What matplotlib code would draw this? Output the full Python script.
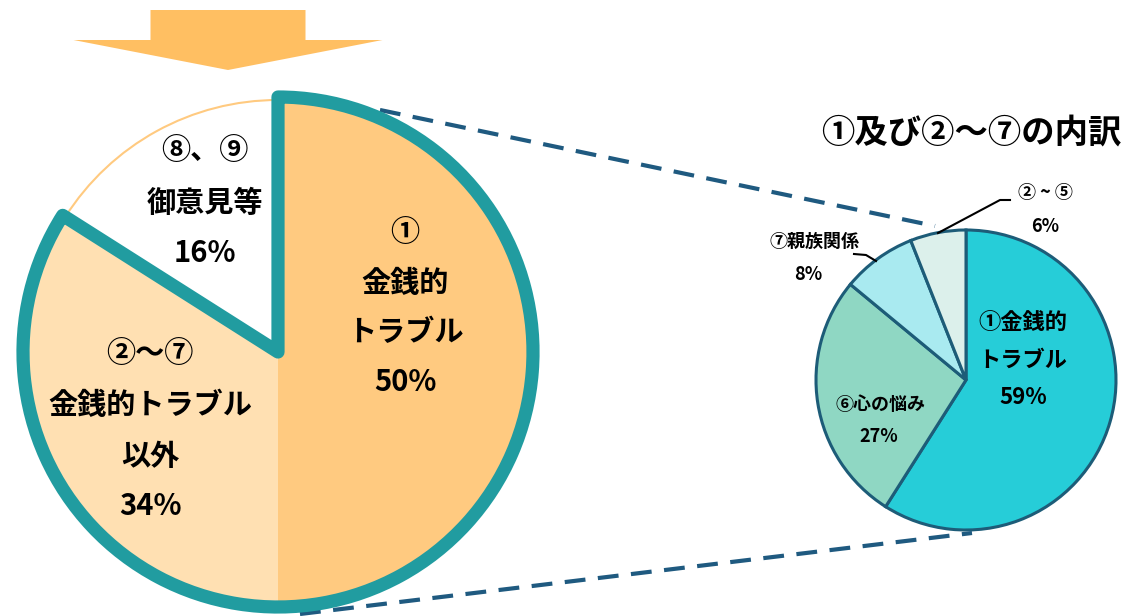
import matplotlib
matplotlib.use('Agg')
import matplotlib.pyplot as plt
from matplotlib.patches import Wedge

plt.rcParams['font.family'] = ['Noto Sans CJK JP', 'DejaVu Sans']

# data
main_labels = ['①\n金銭的\nトラブル', '②〜⑦\n金銭的トラブル\n以外', '⑧、⑨\n御意見等']
main_values = [50, 34, 16]
main_colors = ['#FFCA80', '#FFE0B2', '#FFFFFF']

sub_labels = ['①金銭的\nトラブル', '⑥心の悩み', '⑦親族関係', '② ~ ⑤']
sub_values = [59, 27, 8, 6]
sub_colors = ['#26CDD8', '#8FD7C3', '#A9EAF0', '#DCF0EB']

title = '①及び②～⑦の内訳'

W, H = 1127, 616
def py(y):
    return H - y

fig = plt.figure(figsize=(W / 100, H / 100), dpi=100)
ax = fig.add_axes([0, 0, 1, 1])

# big pie
c1 = (278, py(352))
r1 = 252
wedges, _ = ax.pie(main_values, colors=main_colors, startangle=90, counterclock=False,
                   center=c1, radius=r1, wedgeprops=dict(linewidth=0))
wedges[2].set_edgecolor('#FFCA80')
wedges[2].set_linewidth(1.5)

# teal outline around ① + ②〜⑦
share = sum(main_values[:2]) / sum(main_values)
ax.add_patch(Wedge(c1, r1 + 3, 90 - share * 360, 90, fill=False, ec='#219CA0',
                   lw=9.5, joinstyle='round', zorder=5))

# small pie
c2 = (966, py(380))
r2 = 150
ax.pie(sub_values, colors=sub_colors, startangle=90, counterclock=False,
       center=c2, radius=r2, wedgeprops=dict(edgecolor='#1D5C78', linewidth=2.2))

# arrow
ax.arrow(228, py(10), 0, -60, width=155, head_width=309, head_length=30,
         length_includes_head=True, color='#FFBF62', lw=0)

# dashed connectors
ax.plot([380, 935], [py(110), py(226)], color='#1F5A80', lw=3, ls=(0, (5, 3)), zorder=1)
ax.plot([300, 972], [py(614), py(533)], color='#1F5A80', lw=3, ls=(0, (5, 3)), zorder=1)

# leader lines
ax.plot([938, 1000, 1010], [py(233), py(200), py(200)], color='black', lw=1.5)
ax.plot([854, 866, 876], [py(254), py(255), py(261)], color='black', lw=1.5)

# big pie labels
big_txt = [
    (405, [232, 283, 332], ['①', '金銭的', 'トラブル']),
    (150, [353, 405, 456], ['②〜⑦', '金銭的トラブル', '以外']),
    (205, [150, 203], ['⑧、⑨', '御意見等']),
]
for (x, ys, lines), v in zip(big_txt, main_values):
    for y, s in zip(ys, lines):
        ax.text(x, py(y), s, ha='center', va='center', fontsize=21, fontweight='bold')
    ax.text(x, py(ys[-1] + 50), f'{v}%', ha='center', va='center', fontsize=21, fontweight='bold')

# small pie labels
ax.text(1023, py(322), '①金銭的', ha='center', va='center', fontsize=16, fontweight='bold')
ax.text(1023, py(360), 'トラブル', ha='center', va='center', fontsize=16, fontweight='bold')
ax.text(1023, py(398), f'{sub_values[0]}%', ha='center', va='center', fontsize=16, fontweight='bold')
ax.text(880, py(405), sub_labels[1], ha='center', va='center', fontsize=13, fontweight='bold')
ax.text(879, py(437), f'{sub_values[1]}%', ha='center', va='center', fontsize=13, fontweight='bold')
ax.text(815, py(241), sub_labels[2], ha='center', va='center', fontsize=13, fontweight='bold')
ax.text(808, py(274), f'{sub_values[2]}%', ha='center', va='center', fontsize=13, fontweight='bold')
ax.text(1045, py(192), sub_labels[3], ha='center', va='center', fontsize=13, fontweight='bold')
ax.text(1045, py(226), f'{sub_values[3]}%', ha='center', va='center', fontsize=13, fontweight='bold')

ax.text(971, py(133), title, ha='center', va='center', fontsize=24, fontweight='bold')

ax.set_xlim(0, W)
ax.set_ylim(0, H)
ax.set_aspect('equal')
ax.axis('off')

fig.savefig('out.png', dpi=100)
